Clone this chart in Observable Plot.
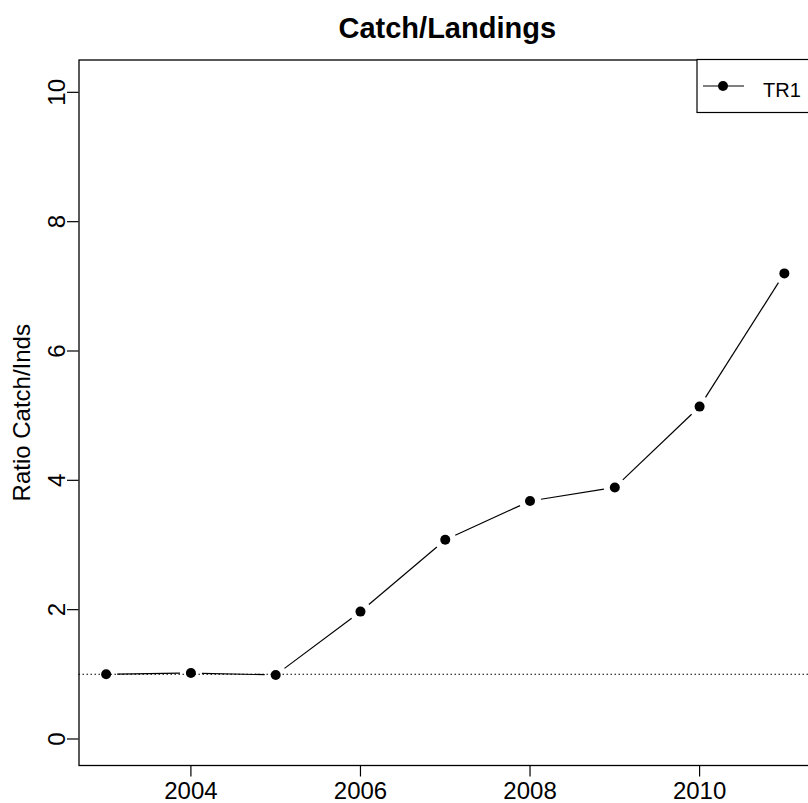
<!DOCTYPE html>
<html><head><meta charset="utf-8">
<script src="https://cdn.jsdelivr.net/npm/d3@7"></script>
<script src="https://cdn.jsdelivr.net/npm/@observablehq/plot@0.6"></script>
<style>
html,body{margin:0;padding:0;background:#fff;overflow:hidden}
#chart svg{display:block}
</style></head><body><div id="chart"></div>
<script>
const title = "Catch/Landings";
const yLabel = "Ratio Catch/Inds";
const seriesName = "TR1";
const years = [2003, 2004, 2005, 2006, 2007, 2008, 2009, 2010, 2011];
const ratio = [1.0, 1.02, 0.99, 1.97, 3.08, 3.68, 3.89, 5.14, 7.20];
const xTicks = [2004, 2006, 2008, 2010];
const yTicks = [0, 2, 4, 6, 8, 10];
const refLine = [1];

const data = years.map((year, i) => ({year, ratio: ratio[i]}));

const font = "'Liberation Sans', Arial, Helvetica, sans-serif";
const layout = {
  width: 808, height: 803,
  marginTop: 59.5, marginBottom: 38, marginLeft: 78.5, marginRight: -3,
  x: {domain: [2002.68, 2011.32]},
  y: {domain: [-0.41, 10.5]}
};

// First pass: obtain the scales, so that line segments (R type="b") can stop short of the points
const base = Plot.plot({...layout, marks: [Plot.dot(data, {x: "year", y: "ratio"})]});
const sx = base.scale("x"), sy = base.scale("y");
const gap = 11;
const segs = data.slice(1).map((d, i) => {
  const a = data[i];
  const ax = sx.apply(a.year), ay = sy.apply(a.ratio);
  const bx = sx.apply(d.year), by = sy.apply(d.ratio);
  const len = Math.hypot(bx - ax, by - ay);
  const ux = (bx - ax) / len, uy = (by - ay) / len;
  return {
    x1: sx.invert(ax + gap * ux), y1: sy.invert(ay + gap * uy),
    x2: sx.invert(bx - gap * ux), y2: sy.invert(by - gap * uy)
  };
});

const plot = Plot.plot({
  ...layout,
  style: {fontFamily: font, fontSize: "24px", background: "white", color: "black"},
  marks: [
    Plot.frame({stroke: "black", strokeWidth: 1.3}),
    Plot.ruleY(refLine, {stroke: "black", strokeWidth: 1.1, strokeDasharray: "1.5,2.5"}),
    Plot.link(segs, {x1: "x1", y1: "y1", x2: "x2", y2: "y2", stroke: "black", strokeWidth: 1.2}),
    Plot.dot(data, {x: "year", y: "ratio", r: 5, fill: "black", stroke: null}),
    Plot.axisX(xTicks, {tickSize: 11.5, tickPadding: 5, tickFormat: "d", fontSize: 24, label: null, strokeWidth: 1.2}),
    Plot.axisY(yTicks, {tickSize: 11.5, text: null, label: null, strokeWidth: 1.2}),
    Plot.text(yTicks, {y: d => d, frameAnchor: "left", dx: -21.5, rotate: -90, textAnchor: "middle", lineAnchor: "middle", text: d => String(d), fontSize: 24}),
    Plot.text([yLabel], {frameAnchor: "left", dx: -56.5, rotate: -90, textAnchor: "middle", lineAnchor: "middle", text: d => d, fontSize: 24}),
    Plot.text([title], {frameAnchor: "top", dx: 2, dy: -22, lineAnchor: "bottom", fontWeight: "bold", fontSize: 29, text: d => d})
  ]
});

// Legend (R-style box at top-right)
const svgSel = d3.select(plot);
const legendTop = 59.5;
const lg = svgSel.append("g").attr("font-family", font);
lg.append("rect").attr("x", 697).attr("y", legendTop).attr("width", 130).attr("height", 53)
  .attr("fill", "white").attr("stroke", "black").attr("stroke-width", 1.2);
lg.append("line").attr("x1", 703).attr("x2", 744).attr("y1", legendTop + 26.5).attr("y2", legendTop + 26.5)
  .attr("stroke", "black").attr("stroke-width", 1.2);
lg.append("circle").attr("cx", 723).attr("cy", legendTop + 26.5).attr("r", 5).attr("fill", "black");
lg.append("text").attr("x", 763).attr("y", legendTop + 37).attr("font-size", 20)
  .attr("text-anchor", "start").attr("fill", "black").text(seriesName);

document.getElementById("chart").append(plot);
</script></body></html>
